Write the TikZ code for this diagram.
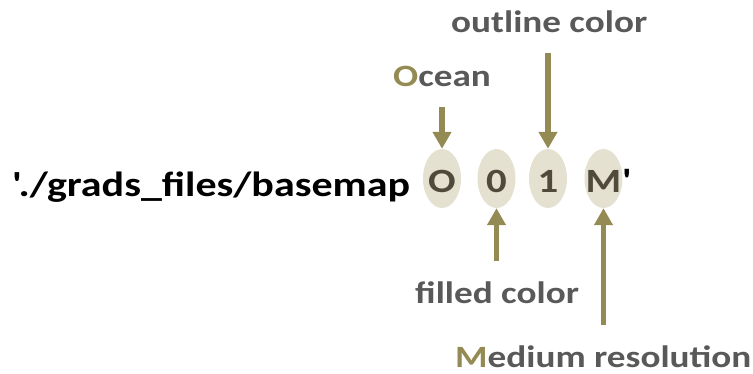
\documentclass[tikz,border=0pt]{standalone}
\usepackage{fontspec}
\setmainfont{Carlito}[Ligatures=TeXOff]
\usetikzlibrary{arrows.meta,shapes.geometric}
\definecolor{olive}{HTML}{948A54}
\definecolor{oval}{HTML}{E4E1D1}
\definecolor{ovaltext}{HTML}{4F4A3A}
\definecolor{lbl}{HTML}{595959}
\newcommand{\wide}[1]{\scalebox{1.2}[1]{#1}}
\begin{document}
\begin{tikzpicture}[x=1pt,y=-1pt,
  oval/.style={ellipse,fill=oval,minimum width=38pt,minimum height=59pt,inner sep=0pt},
  letter/.style={anchor=base,font=\fontsize{34}{34}\selectfont\bfseries,text=ovaltext,inner sep=0pt},
  lab/.style={anchor=base west,font=\fontsize{31}{31}\selectfont\bfseries,text=lbl,inner sep=0pt},
  arr/.style={draw=olive,line width=5.5pt,-{Triangle[width=18pt,length=17pt]}}]
\useasboundingbox (0,0) rectangle (753,374);
\node[oval] (eO) at (442,178.5) {};
\node[oval] (e0) at (496.5,178.5) {};
\node[oval] (e1) at (548,178.5) {};
\node[oval] (eM) at (603.5,178.5) {};
\node[anchor=base west,inner sep=0pt,font=\fontsize{35}{35}\selectfont\bfseries] (path) at (12,197) {\wide{'./grads\_files/basemap}};
\node[letter] (lO) at (442,193) {\wide{O}};
\node[letter] (l0) at (496.5,193) {\wide{0}};
\node[letter] (l1) at (548,193) {\wide{1}};
\node[letter] (lM) at (603.5,193) {\wide{M}};
\node[anchor=base west,inner sep=0pt,font=\fontsize{34}{34}\selectfont\bfseries] (q) at (622,193) {\wide{'}};
\node[lab] (tOut) at (451,33) {\wide{outline color}};
\node[lab] (tOc) at (393,87) {\wide{\textcolor{olive}{O}cean}};
\node[lab] (tFill) at (415,304) {\wide{filled color}};
\node[lab,text depth=0pt] (tMed) at (455,367) {\wide{\textcolor{olive}{M}edium resolution}};
\coordinate (sOc) at (442,107);
\coordinate (sOut) at (548,53);
\coordinate (sFill) at (496.5,261);
\coordinate (sMed) at (603.5,325);
\draw[arr] (sOc) -- (eO.north);
\draw[arr] (sOut) -- (e1.north);
\draw[arr] (sFill) -- (e0.south);
\draw[arr] (sMed) -- (eM.south);
\end{tikzpicture}
\end{document}
